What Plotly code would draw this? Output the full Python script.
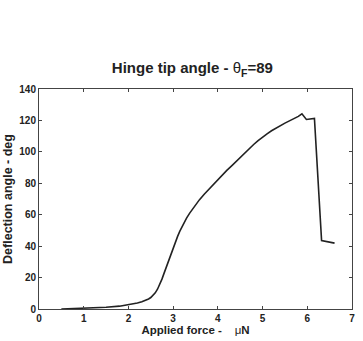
import plotly.graph_objects as go

force = [0.5, 0.8, 1.0, 1.3, 1.5, 1.8, 2.0, 2.1, 2.2, 2.3, 2.4, 2.45, 2.5, 2.55, 2.6, 2.65,
         2.7, 2.75, 2.8, 2.85, 2.9, 2.95, 3.0, 3.05, 3.1, 3.15, 3.2, 3.25, 3.3, 3.37, 3.45,
         3.52, 3.59, 3.7, 3.8, 3.9, 3.96, 4.1, 4.2, 4.32, 4.45, 4.55, 4.65, 4.8, 4.9, 5.0,
         5.1, 5.2, 5.3, 5.4, 5.5, 5.6, 5.7, 5.8, 5.88, 5.98, 6.16, 6.32, 6.61]
angle = [0.0, 0.2, 0.4, 0.8, 1.1, 1.8, 2.6, 3.1, 3.8, 4.6, 5.6, 6.4, 7.3, 8.6, 10.3, 12.6,
         15.5, 19.0, 23.0, 27.0, 31.0, 35.0, 38.5, 42.5, 46.2, 49.5, 52.5, 55.3, 57.8, 61.0, 64.2,
         66.9, 69.6, 73.2, 76.3, 79.2, 81.0, 85.3, 88.2, 91.4, 95.1, 98.2, 101.0, 104.7, 107.2, 109.5,
         111.5, 113.4, 115.2, 116.8, 118.3, 119.7, 121.1, 122.6, 124.2, 120.6, 121.3, 43.5, 41.9]

x_ticks = [0, 1, 2, 3, 4, 5, 6, 7]
y_ticks = [0, 20, 40, 60, 80, 100, 120, 140]

FONT = "Arial, Liberation Sans"

fig = go.Figure()
fig.add_trace(go.Scatter(x=force, y=angle, mode="lines",
                         line=dict(color="#222222", width=1.6),
                         showlegend=False))

axis_common = dict(showgrid=False, zeroline=False, showline=True, linecolor="#444444", linewidth=1,
                   mirror="ticks", ticks="inside", ticklen=3, tickcolor="#444444",
                   tickfont=dict(family=FONT, size=10, color="#222222", weight="bold"))

fig.update_layout(
    width=363, height=341,
    margin=dict(l=37, r=8, t=89, b=28),
    paper_bgcolor="white", plot_bgcolor="white",
    title=dict(text="Hinge tip angle - <span style='font-weight:normal'>θ</span><sub>F</sub>=89",
               x=0.53, xanchor="center", y=0.80, yanchor="middle",
               font=dict(family=FONT, size=15, color="#222222", weight="bold")),
    xaxis=dict(range=[0, 7], tickvals=x_ticks,
               title=dict(text="Applied force -    <span style='font-weight:normal'>μ</span>N", standoff=1,
                          font=dict(family=FONT, size=11.5, color="#222222", weight="bold")),
               **axis_common),
    yaxis=dict(range=[0, 140], tickvals=y_ticks,
               title=dict(text="Deflection angle - deg", standoff=3,
                          font=dict(family=FONT, size=12.5, color="#222222", weight="bold")),
               **axis_common),
)

fig.write_html("out.html")
